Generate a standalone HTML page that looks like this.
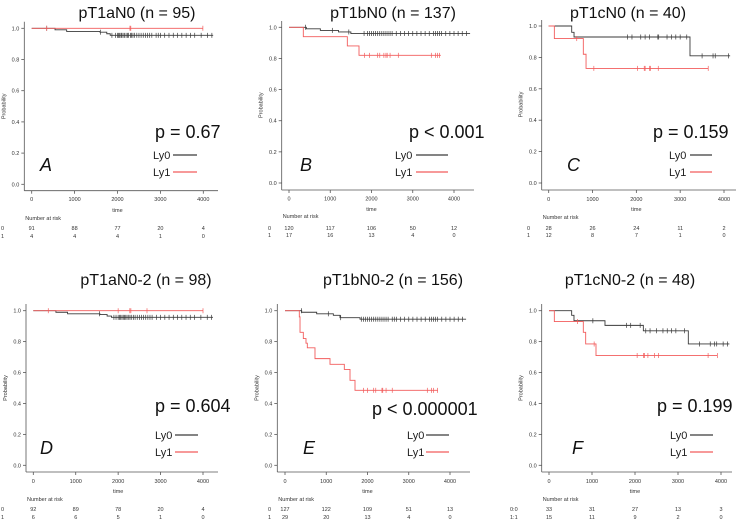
<!DOCTYPE html>
<html><head><meta charset="utf-8"><style>
html,body{margin:0;padding:0;background:#fff;}
svg{display:block;font-family:"Liberation Sans",sans-serif;}
</style></head><body>
<svg id="fig" width="738" height="522" viewBox="0 0 738 522" xmlns="http://www.w3.org/2000/svg"></svg>
<script>
// ---- data ----
const yTicks = [0, 0.2, 0.4, 0.6, 0.8, 1.0];
const yTickLabels = ["0.0","0.2","0.4","0.6","0.8","1.0"];
const xTicks = [0, 1000, 2000, 3000, 4000];
const xTickLabels = ["0","1000","2000","3000","4000"];
const panelTitles = ["pT1aN0 (n = 95)","pT1bN0 (n = 137)","pT1cN0 (n = 40)","pT1aN0-2 (n = 98)","pT1bN0-2 (n = 156)","pT1cN0-2 (n = 48)"];
const panelPvals = ["p = 0.67","p < 0.001","p = 0.159","p = 0.604","p < 0.000001","p = 0.199"];
const panelLetters = ["A","B","C","D","E","F"];
const riskRowLabels = [["0","1"],["0","1"],["0","1"],["0","1"],["0","1"],["0:0","1:1"]];

const A_risk0 = [91,88,77,20,4];
const A_risk1 = [4,4,4,1,0];
const A_ly0_t = [544,815,1592,1750,1830];
const A_ly0_s = [0.99,0.98,0.975,0.965,0.955];
const A_ly0_end = 4230;
const A_ly0_c = [350,1600,1870,1950,2000,2020,2050,2080,2100,2130,2160,2200,2230,2260,2300,2330,2360,2400,2450,2500,2550,2600,2650,2700,2750,2800,2900,2950,3000,3100,3200,3300,3400,3500,3600,3700,3800,3950,4100,4200];
const A_ly1_t = [];
const A_ly1_s = [];
const A_ly1_end = 3990;
const A_ly1_c = [350,2290,2310,3990];

const B_risk0 = [120,117,106,50,12];
const B_risk1 = [17,16,13,4,0];
const B_ly0_t = [420,760,1200,1500];
const B_ly0_s = [0.99,0.98,0.97,0.96];
const B_ly0_end = 4390;
const B_ly0_c = [400,1050,1450,1820,1900,1950,2000,2050,2100,2150,2200,2250,2300,2350,2400,2450,2500,2600,2700,2800,2900,3000,3100,3200,3300,3400,3500,3550,3600,3650,3700,3800,3900,4000,4100,4200,4300];
const B_ly1_t = [347,1414,1697];
const B_ly1_s = [0.94,0.88,0.82];
const B_ly1_end = 3680;
const B_ly1_c = [1830,1950,2150,2200,2300,2350,2380,2450,2650,3450,3550,3600,3650];

const C_risk0 = [28,26,24,11,2];
const C_risk1 = [12,8,7,1,0];
const C_ly0_t = [525,578,3224];
const C_ly0_s = [0.96,0.93,0.81];
const C_ly0_end = 4140;
const C_ly0_c = [1800,1900,2100,2200,2300,2490,2510,2700,2800,2900,3000,3150,3500,3750,3800,4100];
const C_ly1_t = [129,790,852];
const C_ly1_s = [0.92,0.82,0.73];
const C_ly1_end = 3640;
const C_ly1_c = [640,1030,2030,2180,2200,2300,2320,2500,3640];

const D_risk0 = [92,89,78,20,4];
const D_risk1 = [6,6,5,1,0];
const D_ly0_t = [533,808,1570,1740,1843];
const D_ly0_s = [0.99,0.98,0.975,0.965,0.957];
const D_ly0_end = 4235;
const D_ly0_c = [1560,1900,1950,2000,2030,2060,2090,2120,2150,2180,2210,2250,2280,2320,2360,2400,2450,2500,2550,2600,2650,2700,2750,2800,2900,3000,3100,3200,3300,3400,3500,3600,3700,3800,3950,4100,4200];
const D_ly1_t = [];
const D_ly1_s = [];
const D_ly1_end = 4000;
const D_ly1_c = [353,2000,2275,2300,2680,4000];

const E_risk0 = [127,122,109,51,13];
const E_risk1 = [29,20,13,4,0];
const E_ly0_t = [404,768,1172,1333,1818];
const E_ly0_s = [0.99,0.98,0.97,0.955,0.945];
const E_ly0_end = 4390;
const E_ly0_c = [400,1050,1350,1850,1900,1950,2000,2050,2100,2150,2200,2250,2300,2350,2400,2450,2500,2600,2650,2700,2800,2900,3000,3100,3200,3300,3400,3500,3550,3600,3650,3700,3800,3900,4000,4100,4200,4300];
const E_ly1_t = [347,364,444,509,541,727,1091,1438,1576,1697];
const E_ly1_s = [0.96,0.86,0.82,0.79,0.76,0.69,0.653,0.62,0.55,0.485];
const E_ly1_end = 3700;
const E_ly1_c = [1900,2000,2150,2200,2350,2370,2450,2600,3450,3550,3600,3700];

const F_risk0 = [33,31,27,13,3];
const F_risk1 = [15,11,9,2,0];
const F_ly0_t = [527,581,1302,2194,3240];
const F_ly0_s = [0.97,0.935,0.905,0.87,0.785];
const F_ly0_end = 4195;
const F_ly0_c = [1020,1800,1900,2120,2250,2350,2500,2650,2750,2850,2950,3150,3500,3750,3850,3900,4050,4150];
const F_ly1_t = [124,798,853,1093];
const F_ly1_s = [0.93,0.86,0.785,0.71];
const F_ly1_end = 3915;
const F_ly1_c = [660,1050,2050,2200,2220,2300,2450,2550,3700,3915];

// ---- layout (pixel geometry only) ----
const geo = [
 {x0:31.7,x4:203.3,y1:28.3,y0:184.3,axL:24.3,axT:21.7,axB:190.7,axR:218,tl:201,tm:212,nar:220,r0:230,r1:238,rl:1,tcx:137,tby:18,px:155,py:138,lx:153,ll1:173,ll2:197,ly:155,lt:40,lty:171},
 {x0:289,x4:454,y1:27.3,y0:183,axL:281.7,axT:21,axB:190,axR:474,tl:200.7,tm:211,nar:218,r0:230,r1:237,rl:268,tcx:393,tby:18,px:409,py:138,lx:395,ll1:416,ll2:448,ly:155,lt:300,lty:171},
 {x0:548.7,x4:724,y1:26,y0:183,axL:541.7,axT:20,axB:190,axR:736,tl:201,tm:211,nar:219,r0:230,r1:237,rl:527,tcx:628,tby:18,px:653,py:138,lx:669,ll1:690,ll2:712,ly:155,lt:567,lty:171},
 {x0:33.3,x4:203,y1:310.7,y0:465.3,axL:26,axT:304,axB:472,axR:218,tl:483,tm:493,nar:501,r0:511,r1:519,rl:1,tcx:146,tby:285,px:155,py:412,lx:155,ll1:175,ll2:198,ly:435,lt:40,lty:454},
 {x0:285,x4:450,y1:310.7,y0:465.3,axL:277.3,axT:304,axB:472,axR:470,tl:483,tm:493,nar:501,r0:511,r1:519,rl:268,tcx:393,tby:285,px:372,py:415,lx:407,ll1:426,ll2:449,ly:435,lt:303,lty:454},
 {x0:549,x4:721,y1:310.7,y0:465.3,axL:541.7,axT:304,axB:472,axR:732,tl:483,tm:493,nar:501,r0:511,r1:519,rl:510,tcx:630,tby:285,px:657,py:412,lx:670,ll1:690,ll2:713,ly:435,lt:572,lty:454}
];
const panelData = [
 {r0:A_risk0,r1:A_risk1,a:[A_ly0_t,A_ly0_s,A_ly0_end,A_ly0_c],b:[A_ly1_t,A_ly1_s,A_ly1_end,A_ly1_c]},
 {r0:B_risk0,r1:B_risk1,a:[B_ly0_t,B_ly0_s,B_ly0_end,B_ly0_c],b:[B_ly1_t,B_ly1_s,B_ly1_end,B_ly1_c]},
 {r0:C_risk0,r1:C_risk1,a:[C_ly0_t,C_ly0_s,C_ly0_end,C_ly0_c],b:[C_ly1_t,C_ly1_s,C_ly1_end,C_ly1_c]},
 {r0:D_risk0,r1:D_risk1,a:[D_ly0_t,D_ly0_s,D_ly0_end,D_ly0_c],b:[D_ly1_t,D_ly1_s,D_ly1_end,D_ly1_c]},
 {r0:E_risk0,r1:E_risk1,a:[E_ly0_t,E_ly0_s,E_ly0_end,E_ly0_c],b:[E_ly1_t,E_ly1_s,E_ly1_end,E_ly1_c]},
 {r0:F_risk0,r1:F_risk1,a:[F_ly0_t,F_ly0_s,F_ly0_end,F_ly0_c],b:[F_ly1_t,F_ly1_s,F_ly1_end,F_ly1_c]}
];

const NS = "http://www.w3.org/2000/svg";
const svg = document.getElementById("fig");
function mk(tag, attrs, parent, text){
  const e = document.createElementNS(NS, tag);
  for (const k in attrs) e.setAttribute(k, attrs[k]);
  if (text !== undefined) e.textContent = text;
  parent.appendChild(e);
  return e;
}
const AX = "#555";
const BLK = "#3a3a3a", RED = "#f25c5c";

geo.forEach((g, i) => {
  const d = panelData[i];
  const xs = t => g.x0 + (g.x4 - g.x0) * t / 4000;
  const ys = s => g.y0 + (g.y1 - g.y0) * s;
  const p = mk("g", {}, svg);
  
  

  const title = mk("text", {x:g.tcx, y:g.tby, "text-anchor":"middle", "font-size":16, fill:"#111"}, p, panelTitles[i]);
  
  

  const yax = mk("g", {}, p);
  
  
  mk("line", {x1:g.axL, y1:g.axT, x2:g.axL, y2:g.axB, stroke:AX, "stroke-width":0.8}, yax);
  yTicks.forEach((v, k) => {
    const y = ys(v);
    mk("line", {x1:g.axL-3, y1:y, x2:g.axL, y2:y, stroke:AX, "stroke-width":0.8}, yax);
    const t = mk("text", {x:g.axL-5, y:y+2, "text-anchor":"end", "font-size":5.5, fill:"#333"}, yax, yTickLabels[k]);
    
    
  });
  const yl = mk("text", {x:0, y:0, "text-anchor":"middle", "font-size":5.5, fill:"#333",
    transform:`translate(${g.axL-19},${(g.y0+g.y1)/2}) rotate(-90)`}, yax, "Probability");
  
  

  const xax = mk("g", {}, p);
  
  
  mk("line", {x1:g.axL, y1:g.axB, x2:g.axR, y2:g.axB, stroke:AX, "stroke-width":0.8}, xax);
  xTicks.forEach((v, k) => {
    const x = xs(v);
    mk("line", {x1:x, y1:g.axB, x2:x, y2:g.axB+3, stroke:AX, "stroke-width":0.8}, xax);
    const t = mk("text", {x:x, y:g.tl, "text-anchor":"middle", "font-size":5.5, fill:"#333"}, xax, xTickLabels[k]);
    
    
  });
  const xl = mk("text", {x:(g.x0+g.x4)/2, y:g.tm, "text-anchor":"middle", "font-size":5.5, fill:"#333"}, xax, "time");
  
  

  function curve(arr, col, name){
    const [ts, ss, end, cs] = arr;
    let dstr = `M${xs(0)},${ys(1)}`;
    ts.forEach((t, k) => { dstr += ` H${xs(t)} V${ys(ss[k])}`; });
    dstr += ` H${xs(end)}`;
    const gg = mk("g", {}, p);
    
    
    mk("path", {d:dstr, fill:"none", stroke:col, "stroke-width":0.9}, gg);
    cs.forEach(c => {
      let s = 1;
      ts.forEach((t, k) => { if (t <= c) s = ss[k]; });
      const x = xs(c), y = ys(s);
      const m = mk("line", {x1:x, y1:y-2.5, x2:x, y2:y+2.5, stroke:col, "stroke-width":0.7}, gg);
      
      
    });
  }
  curve(d.a, BLK, "curve-ly0");
  curve(d.b, RED, "curve-ly1");

  const pv = mk("text", {x:g.px, y:g.py, "font-size":18, fill:"#111"}, p, panelPvals[i]);
  
  

  const lg = mk("g", {}, p);
  
  
  [["Ly0", BLK], ["Ly1", RED]].forEach((e, k) => {
    const y = g.ly + k*17;
    const le = mk("g", {}, lg);
    
    
    mk("text", {x:g.lx, y:y+4, "font-size":11, fill:"#222"}, le, e[0]);
    mk("line", {x1:g.ll1, y1:y, x2:g.ll2, y2:y, stroke:e[1], "stroke-width":1.3}, le);
  });

  const lt = mk("text", {x:g.lt, y:g.lty, "font-size":18, "font-style":"italic", fill:"#111"}, p, panelLetters[i]);
  
  

  const rk = mk("g", {}, p);
  
  
  mk("text", {x:g.axL+1, y:g.nar, "font-size":5.5, fill:"#333"}, rk, "Number at risk");
  mk("text", {x:g.rl, y:g.r0, "font-size":5.5, fill:"#333"}, rk, riskRowLabels[i][0]);
  mk("text", {x:g.rl, y:g.r1, "font-size":5.5, fill:"#333"}, rk, riskRowLabels[i][1]);
  xTicks.forEach((v, k) => {
    mk("text", {x:xs(v), y:g.r0, "text-anchor":"middle", "font-size":5.5, fill:"#333"}, rk, String(d.r0[k]));
    mk("text", {x:xs(v), y:g.r1, "text-anchor":"middle", "font-size":5.5, fill:"#333"}, rk, String(d.r1[k]));
  });
});
</script>
</body></html>
